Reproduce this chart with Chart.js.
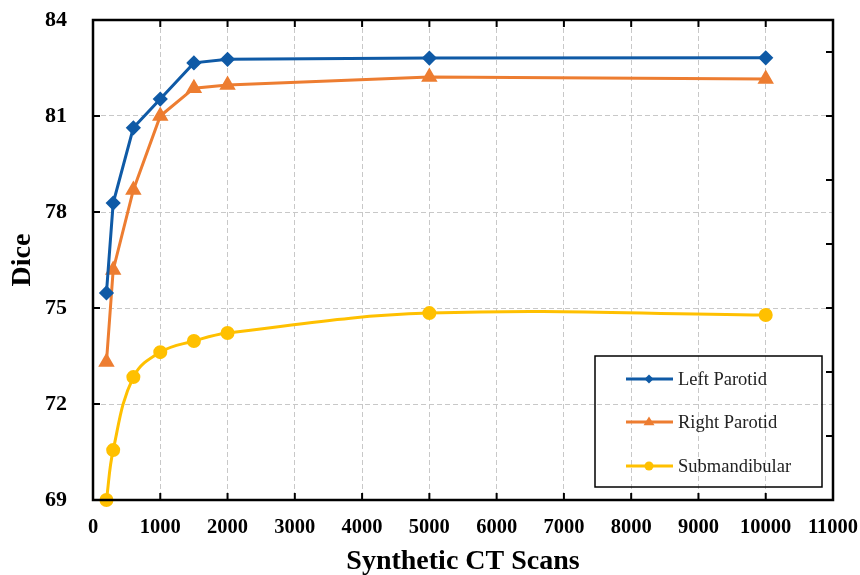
<!DOCTYPE html>
<html>
<head>
<meta charset="utf-8">
<script src="https://cdn.jsdelivr.net/npm/chart.js@4.4.1/dist/chart.umd.min.js"></script>
<style>
html,body{margin:0;padding:0;background:#fff;}
#wrap{width:860px;height:575px;}
</style>
</head>
<body>
<div id="wrap"><canvas id="diceChart" width="860" height="575"></canvas></div>
<script>
// data
const scans=[200,300,600,1000,1500,2000,5000,10000];
const leftParotid=[75.47,78.28,80.63,81.53,82.66,82.77,82.81,82.82];
const rightParotid=[73.31,76.19,78.69,81.0,81.87,81.97,82.22,82.16];
const submandibular=[69.0,70.56,72.84,73.62,73.97,74.22,74.84,74.78];
const xTicks=[0,1000,2000,3000,4000,5000,6000,7000,8000,9000,10000,11000];
const yTicks=[69,72,75,78,81,84];
const yRightTicks=[71,73,75,77,79,81,83];

const serif="'Liberation Serif','Times New Roman',serif";

function pts(ys){
return scans.map((x,i)=>({x:x,y:ys[i]}));
}

// frame, inward ticks and boxed legend
const framePlugin={
id:"frame",
afterDraw(chart){
const c=chart.ctx;
const a=chart.chartArea;
const xs=chart.scales.x, ys=chart.scales.y;
c.save();
c.strokeStyle="#000";
c.lineWidth=2;
c.beginPath();
xTicks.forEach(t=>{
const px=xs.getPixelForValue(t);
c.moveTo(px,a.bottom);c.lineTo(px,a.bottom-7);
c.moveTo(px,a.top);c.lineTo(px,a.top+7);
});
yTicks.forEach(t=>{
const py=ys.getPixelForValue(t);
c.moveTo(a.left,py);c.lineTo(a.left+7,py);
});
yRightTicks.forEach(t=>{
const py=ys.getPixelForValue(t);
c.moveTo(a.right,py);c.lineTo(a.right-7,py);
});
c.stroke();
c.lineWidth=2.5;
c.strokeRect(a.left,a.top,a.right-a.left,a.bottom-a.top);

// legend
const bx=595,by=356,bw=227,bh=131;
c.lineWidth=1.5;
c.strokeRect(bx,by,bw,bh);
const rows=[379,422,466];
chart.data.datasets.forEach((ds,i)=>{
const y=rows[i];
c.strokeStyle=ds.borderColor;
c.lineWidth=3;
c.beginPath();c.moveTo(626,y);c.lineTo(673,y);c.stroke();
c.fillStyle=ds.backgroundColor;
const r=4.5;
c.beginPath();
if(ds.pointStyle==="rectRot"){
c.moveTo(649,y-r);c.lineTo(649+r,y);c.lineTo(649,y+r);c.lineTo(649-r,y);
}else if(ds.pointStyle==="triangle"){
c.moveTo(649,y-r-1);c.lineTo(649+r+1,y+r*0.7);c.lineTo(649-r-1,y+r*0.7);
}else{
c.arc(649,y,r,0,Math.PI*2);
}
c.closePath();c.fill();
c.fillStyle="#222";
c.font="18.5px "+serif;
c.textBaseline="middle";
c.textAlign="left";
c.fillText(ds.label,678,y+1);
});
c.restore();
}
};

function fixPad(s){
s.paddingTop=0;s.paddingBottom=0;s.paddingLeft=0;s.paddingRight=0;
}

const ctx=document.getElementById("diceChart").getContext("2d");

new Chart(ctx,{
type:"line",
data:{
datasets:[
{
label:"Left Parotid",
data:pts(leftParotid),
borderColor:"#0F5AA6",
backgroundColor:"#0F5AA6",
pointStyle:"rectRot",
pointRadius:5.5,
borderWidth:3,
tension:0
},
{
label:"Right Parotid",
data:pts(rightParotid),
borderColor:"#ED7D31",
backgroundColor:"#ED7D31",
pointStyle:"triangle",
pointRadius:6.5,
borderWidth:3,
tension:0
},
{
label:"Submandibular",
data:pts(submandibular),
borderColor:"#FFC000",
backgroundColor:"#FFC000",
pointStyle:"circle",
pointRadius:5.5,
borderWidth:3,
tension:0.4
}
]
},
options:{
responsive:false,
animation:false,
clip:false,
layout:{padding:{top:20,right:27,left:0,bottom:0}},
plugins:{legend:{display:false},tooltip:{enabled:false}},
scales:{
x:{
type:"linear",
min:0,max:11000,
afterFit(s){s.height=75;fixPad(s);},
afterBuildTicks(s){s.ticks=xTicks.map(v=>({value:v}));},
grid:{color:"#c8c8c8",lineWidth:1,drawTicks:false},
border:{display:false,dash:[5,3]},
ticks:{color:"#000",padding:15,maxRotation:0,autoSkip:false,callback:v=>String(v),font:{family:serif,size:20.5,weight:"bold"}},
title:{display:true,text:"Synthetic CT Scans",color:"#000",padding:{top:0,bottom:-4},font:{family:serif,size:28,weight:"bold"}}
},
y:{
min:69,max:84,
afterFit(s){s.width=93;fixPad(s);},
afterBuildTicks(s){s.ticks=yTicks.map(v=>({value:v}));},
grid:{color:"#c8c8c8",lineWidth:1,drawTicks:false},
border:{display:false,dash:[5,3]},
ticks:{color:"#000",padding:26,callback:v=>String(v),font:{family:serif,size:22,weight:"bold"}},
title:{display:true,text:"Dice",color:"#000",padding:{top:6,bottom:0},font:{family:serif,size:28,weight:"bold"}}
}
}
},
plugins:[framePlugin]
});
</script>
</body>
</html>
